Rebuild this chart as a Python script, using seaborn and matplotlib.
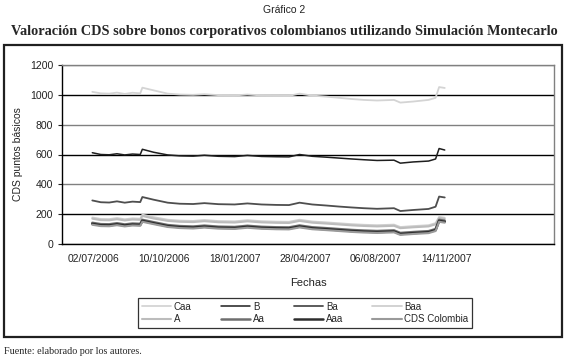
import pandas as pd
import matplotlib.pyplot as plt
import matplotlib.dates as mdates
from matplotlib.patches import Rectangle
import seaborn as sns

fechas = pd.to_datetime([
    '2006-06-30', '2006-07-12', '2006-07-24', '2006-08-04', '2006-08-15', '2006-08-26',
    '2006-09-06', '2006-09-09', '2006-09-25', '2006-10-15', '2006-11-01', '2006-11-20',
    '2006-12-06', '2006-12-26', '2007-01-18', '2007-02-05', '2007-02-25', '2007-03-18',
    '2007-04-05', '2007-04-20', '2007-05-08', '2007-05-28', '2007-06-15', '2007-07-03',
    '2007-07-20', '2007-08-08', '2007-09-01', '2007-09-10', '2007-09-28', '2007-10-20',
    '2007-10-30', '2007-11-04', '2007-11-12'])

caa = [1020, 1010, 1008, 1015, 1006, 1014, 1010, 1048, 1030, 1008, 1002, 1000, 1004, 998, 996, 1002, 996,
       994, 993, 1008, 995, 988, 980, 972, 966, 962, 966, 948, 955, 966, 980, 1052, 1046]
b = [612, 600, 598, 605, 597, 603, 600, 635, 615, 597, 591, 589, 595, 588, 586, 594, 587,
     585, 584, 600, 588, 582, 576, 570, 565, 560, 562, 542, 550, 556, 570, 640, 630]
ba = [292, 280, 278, 286, 277, 284, 281, 315, 297, 277, 270, 268, 274, 267, 265, 272, 265,
      262, 261, 277, 265, 258, 251, 245, 240, 236, 240, 221, 228, 235, 250, 318, 312]
baa = [178, 168, 167, 174, 166, 172, 170, 197, 180, 163, 157, 155, 161, 154, 152, 160, 153,
       150, 149, 163, 151, 145, 139, 133, 129, 126, 130, 114, 120, 126, 140, 182, 176]
a = [170, 160, 159, 166, 158, 164, 162, 188, 171, 155, 149, 147, 153, 146, 144, 152, 145,
     142, 141, 155, 143, 137, 131, 125, 121, 118, 122, 106, 112, 118, 132, 174, 168]
aa = [142, 133, 132, 139, 131, 137, 135, 162, 146, 127, 120, 117, 123, 116, 114, 122, 115,
      112, 111, 124, 112, 106, 100, 94, 90, 87, 91, 74, 80, 86, 100, 162, 156]
aaa = [135, 126, 125, 132, 124, 130, 128, 155, 139, 120, 113, 110, 116, 109, 107, 115, 108,
       105, 104, 117, 105, 99, 93, 87, 83, 80, 84, 67, 73, 79, 93, 155, 149]
cds_col = [129, 120, 119, 126, 118, 124, 122, 149, 133, 114, 107, 104, 110, 103, 101, 109, 102,
           99, 98, 111, 99, 93, 87, 81, 77, 74, 78, 61, 67, 73, 87, 149, 143]

series = ['Caa', 'B', 'Ba', 'Baa', 'A', 'Aa', 'Aaa', 'CDS Colombia']
valores = [caa, b, ba, baa, a, aa, aaa, cds_col]
colores = ['#d4d4d4', '#1e1e1e', '#4e4e4e', '#cfcfcf', '#bcbcbc', '#6e6e6e', '#2e2e2e', '#9a9a9a']
grosor = [1.3, 1.1, 1.3, 1.3, 1.5, 1.8, 1.8, 1.5]

fechas_ticks = pd.to_datetime(['2006-07-02', '2006-10-10', '2007-01-18',
                               '2007-04-28', '2007-08-06', '2007-11-14'])

sns.set_style('white')
plt.rcParams['font.family'] = ['Liberation Sans', 'DejaVu Sans']

fig = plt.figure(figsize=(5.69, 3.63), dpi=100)
ax = fig.add_axes([62 / 569, 119 / 363, 492 / 569, 179 / 363])

for nombre, vals, col, lw in zip(series, valores, colores, grosor):
    sns.lineplot(x=fechas, y=vals, color=col, linewidth=lw, label=nombre, ax=ax)

ax.set_ylim(0, 1200)
ax.set_yticks(range(0, 1201, 200))
ax.set_xlim(pd.Timestamp('2006-05-18'), pd.Timestamp('2008-04-15'))
ax.set_xticks(fechas_ticks)
ax.xaxis.set_major_formatter(mdates.DateFormatter('%d/%m/%Y'))
ax.tick_params(axis='x', length=0, labelsize=7.4, pad=7, colors='#222222')
ax.tick_params(axis='y', length=3, width=0.8, labelsize=7.6, left=True, colors='#222222')

ax.yaxis.grid(True, linewidth=1.0)
for i, gl in enumerate(ax.get_ygridlines()):
    gl.set_color('#000000' if i % 2 == 1 else '#808080')

for lado in ['left', 'bottom']:
    ax.spines[lado].set_color('#000000')
    ax.spines[lado].set_linewidth(1.0)
for lado in ['top', 'right']:
    ax.spines[lado].set_color('#808080')
    ax.spines[lado].set_linewidth(1.0)

ax.set_ylabel('CDS puntos básicos', fontsize=7.5, color='#222222', labelpad=5)
ax.set_xlabel('Fechas', fontsize=8, color='#222222', labelpad=10)

h, l = ax.get_legend_handles_labels()
orden = [0, 4, 1, 5, 2, 6, 3, 7]
leg = ax.legend([h[i] for i in orden], [l[i] for i in orden], ncol=4,
                loc='upper left', bbox_to_anchor=(133 / 569, 70 / 363),
                bbox_transform=fig.transFigure, fontsize=7, frameon=True, fancybox=False,
                edgecolor='#000000', handlelength=3.0, handletextpad=0.3, columnspacing=3.0,
                borderpad=0.4, labelspacing=0.25)
leg.get_frame().set_linewidth(0.9)

fig.patches.append(Rectangle((4 / 569, 26 / 363), 558 / 569, 292 / 363, transform=fig.transFigure,
                             fill=False, edgecolor='#202020', linewidth=1.6))

fig.text(0.5, 1 - 10 / 363, 'Gráfico 2', ha='center', va='center', fontsize=7.5, color='#222222')
fig.text(0.5, 1 - 32 / 363, 'Valoración CDS sobre bonos corporativos colombianos utilizando Simulación Montecarlo',
         ha='center', va='center', fontsize=10.3, fontweight='bold', family='Liberation Serif')
fig.text(4 / 569, 11 / 363, 'Fuente: elaborado por los autores.', ha='left', va='center',
         fontsize=7.3, family='Liberation Serif')

fig.savefig('out.png', dpi=100)
